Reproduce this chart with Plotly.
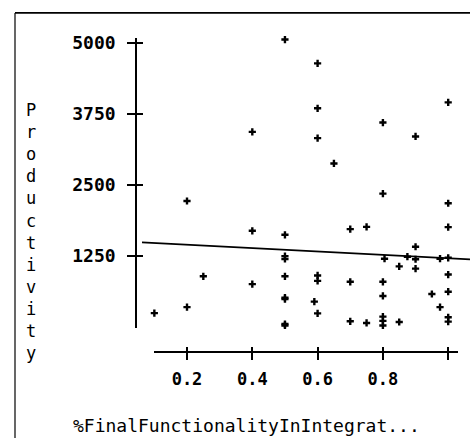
import plotly.graph_objects as go

# ---- data ----
final_functionality = [
    0.5, 0.6, 0.6, 0.6, 0.4, 0.8, 0.9, 1.0, 0.65, 0.2,
    0.8, 1.0, 1.0, 0.7, 0.75, 0.4, 0.5, 0.9, 0.5, 0.5,
    0.805, 0.875, 0.9, 0.975, 1.0, 0.85, 0.9, 0.25, 0.5, 0.6,
    0.6, 0.4, 0.7, 0.8, 1.0, 1.0, 0.95, 0.8, 0.5, 0.5,
    0.59, 0.2, 0.975, 0.1, 0.6, 0.7, 0.75, 0.8, 0.8, 0.8,
    0.85, 1.0, 1.0, 0.5, 0.5,
]
productivity = [
    5060, 4640, 3850, 3325, 3435, 3600, 3355, 3955, 2880, 2220,
    2350, 2180, 1760, 1725, 1765, 1695, 1625, 1415, 1250, 1200,
    1205, 1240, 1195, 1205, 1220, 1070, 1030, 895, 895, 910,
    815, 757, 798, 798, 926, 624, 584, 549, 520, 495,
    450, 352, 352, 247, 242, 103, 74, 185, 110, 30,
    91, 175, 97, 55, 30,
]
fit_intercept = 1512
fit_slope = -299

x_tick_vals = [0.2, 0.4, 0.6, 0.8, 1.0]
x_tick_text = ["0.2", "0.4", "0.6", "0.8", ""]
y_tick_vals = [1250, 2500, 3750, 5000]
y_tick_text = ["1250", "2500", "3750", "5000"]

x_title = "%FinalFunctionalityInIntegrat..."
y_title = "Productivity"

# ---- layout geometry (pixels) ----
W, H = 470, 438
def fx(px):
    return px / W
def fy(py):
    return 1 - py / H
def dx(px):  # pixel -> data x
    return (px - 121.7) / 326.5
def dy(py):  # pixel -> data y
    return (325.9 - py) * 17.39

MONO = "DejaVu Sans Mono"

fig = go.Figure()

# main plotting area (hidden axes)
main_x_range = [dx(142), dx(470)]
fig.add_trace(go.Scatter(
    x=main_x_range,
    y=[fit_intercept + fit_slope * v for v in main_x_range],
    mode="lines", line=dict(color="black", width=1.8),
    hoverinfo="skip", showlegend=False, xaxis="x", yaxis="y"))
fig.add_trace(go.Scatter(
    x=final_functionality, y=productivity, mode="markers",
    marker=dict(symbol="cross", size=6, color="black", line=dict(width=0)),
    showlegend=False, xaxis="x", yaxis="y"))

# dummy traces so the display axes are drawn
fig.add_trace(go.Scatter(x=[], y=[], xaxis="x2", yaxis="y2", showlegend=False))
fig.add_trace(go.Scatter(x=[], y=[], xaxis="x3", yaxis="y3", showlegend=False))

xr2 = [dx(154), dx(458)]
yr2 = [dy(327), dy(33)]
common_x = dict(domain=[fx(154), fx(458)], range=xr2, anchor="free",
                position=fy(351), tickvals=x_tick_vals, showgrid=False,
                zeroline=False, fixedrange=True)
common_y = dict(domain=[fy(327), fy(33)], range=yr2, anchor="free",
                position=fx(136), tickvals=y_tick_vals, showgrid=False,
                zeroline=False, fixedrange=True)

fig.update_layout(
    width=W, height=H,
    margin=dict(l=0, r=0, t=0, b=0),
    paper_bgcolor="white", plot_bgcolor="rgba(0,0,0,0)",
    xaxis=dict(domain=[fx(142), 1.0], range=main_x_range, visible=False,
               fixedrange=True),
    yaxis=dict(domain=[fy(335), fy(20)], range=[dy(335), dy(20)],
               visible=False, fixedrange=True),
    xaxis2=dict(**common_x, showline=True, linecolor="black", linewidth=1.5,
                ticks="outside", ticklen=7, tickwidth=1.5, tickcolor="black",
                ticktext=x_tick_text, ticklabelstandoff=5,
                tickfont=dict(family=MONO, size=17, color="black", weight="bold")),
    xaxis3=dict(**common_x, showline=False, ticks="inside", ticklen=5,
                tickwidth=1.5, tickcolor="black", showticklabels=False),
    yaxis2=dict(**common_y, showline=True, linecolor="black", linewidth=1.5,
                ticks="outside", ticklen=8, tickwidth=1.5, tickcolor="black",
                ticktext=y_tick_text, ticklabelstandoff=8,
                tickfont=dict(family=MONO, size=18, color="black", weight="bold")),
    yaxis3=dict(**common_y, showline=False, ticks="inside", ticklen=6,
                tickwidth=1.5, tickcolor="black", showticklabels=False),
    shapes=[
        dict(type="line", xref="paper", yref="paper", x0=fx(15), x1=1.0,
             y0=fy(8), y1=fy(8), line=dict(color="black", width=1.8)),
        dict(type="line", xref="paper", yref="paper", x0=fx(15), x1=fx(15),
             y0=fy(8), y1=0, line=dict(color="black", width=1.2)),
    ],
    annotations=[
        dict(text=x_title, xref="paper", yref="paper", x=fx(246.5), y=fy(425),
             xanchor="center", yanchor="middle", showarrow=False,
             font=dict(family=MONO, size=18, color="black")),
        dict(text="<br>".join(y_title), xref="paper", yref="paper",
             x=fx(31), y=fy(229), xanchor="center", yanchor="middle",
             showarrow=False, align="center",
             font=dict(family=MONO, size=17, color="black")),
    ],
)

fig.write_html("out.html")
